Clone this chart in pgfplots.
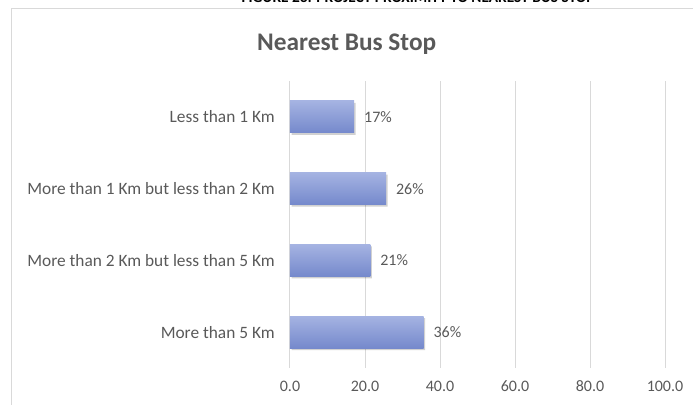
\documentclass[border=0pt]{standalone}
\usepackage{pgfplots}
\pgfplotsset{compat=1.18}
\usepackage{fontspec}
\setmainfont{Carlito}
\definecolor{txt}{HTML}{595959}
\definecolor{gridc}{HTML}{D9D9D9}
\definecolor{bartop}{HTML}{A5B3E2}
\definecolor{barbot}{HTML}{7589CC}
\begin{document}
\begin{tikzpicture}
\useasboundingbox (0,0) rectangle (519.75pt,-303pt);
\clip (0,0) rectangle (519.75pt,-303pt);
\draw[gridc, line width=0.75pt] (8.25pt,-310pt) -- (8.25pt,-6pt) -- (530pt,-6pt);
\node[anchor=base, inner sep=0pt, font=\bfseries\fontsize{11.5}{13}\selectfont] at (313.5pt,-1.8pt) {FIGURE 23: PROJECT PROXIMITY TO NEAREST BUS STOP};
\node[text=txt, font=\bfseries\fontsize{19}{22}\selectfont] at (260pt,-33pt) {Nearest Bus Stop};
\begin{axis}[
  at={(217.5pt,-276pt)}, anchor=south west,
  scale only axis, width=281.25pt, height=215.25pt,
  xbar, bar width=24pt, bar shift=0pt,
  xmin=0, xmax=100, ymin=-0.5, ymax=3.5, y dir=reverse,
  xtick={0,20,40,60,80,100},
  ytick={0,1,2,3},
  yticklabels={Less than 1 Km, More than 1 Km but less than 2 Km, More than 2 Km but less than 5 Km, More than 5 Km},
  xticklabel={\pgfmathprintnumber[fixed,fixed zerofill,precision=1]{\tick}},
  /pgf/number format/assume math mode=true,
  axis line style={draw=none},
  major tick length=0pt,
  xmajorgrids, grid style={gridc, line width=0.75pt},
  ticklabel style={text=txt, font=\fontsize{12}{14}\selectfont},
  xticklabel style={yshift=-6pt},
  yticklabel style={xshift=-8pt, font=\fontsize{13}{15}\selectfont},
  point meta=explicit symbolic,
  nodes near coords style={text=txt, font=\fontsize{12}{14}\selectfont, anchor=west, xshift=4pt},
  barstyle/.style={draw=none, top color=bartop, bottom color=barbot, nodes near coords},
  shadowstyle/.style={draw=none, fill=black, fill opacity=0.18, xshift=1.2pt, yshift=-1.5pt},
]
\addplot[shadowstyle] coordinates {(17.1,0) (25.6,1) (21.4,2) (35.6,3)};
\addplot[barstyle] coordinates {(17.1,0) [17\%]};
\addplot[barstyle] coordinates {(25.6,1) [26\%]};
\addplot[barstyle] coordinates {(21.4,2) [21\%]};
\addplot[barstyle] coordinates {(35.6,3) [36\%]};
\end{axis}
\end{tikzpicture}
\end{document}
